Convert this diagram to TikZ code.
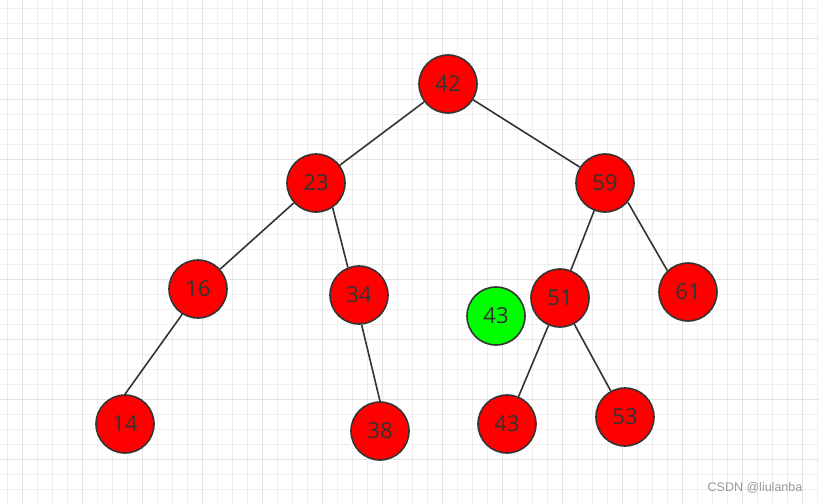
\documentclass[tikz,border=0pt]{standalone}
\usepackage{fontspec}
\setmainfont{Open Sans}
\newfontfamily\wmfont{Liberation Sans}
\definecolor{minorg}{HTML}{EFEFEF}
\definecolor{majorg}{HTML}{E2E2E2}
\definecolor{ink}{HTML}{333333}
\definecolor{nred}{HTML}{FF0000}
\definecolor{ngreen}{HTML}{00FF00}
\begin{document}
\begin{tikzpicture}[x=1pt,y=-1pt,
  tnode/.style={circle,draw=ink,line width=1.6pt,fill=nred,minimum size=58pt,inner sep=0pt,
    text=ink,font=\fontsize{22}{26}\selectfont},
  gnode/.style={tnode,fill=ngreen},
  edge/.style={draw=ink,line width=1.6pt}]
\useasboundingbox (0,0) rectangle (819,503);
\fill[white] (0,0) rectangle (819,503);
% grid
\foreach \x in {7,22,...,817} \draw[minorg,line width=1pt] (\x,0) -- (\x,503);
\foreach \y in {9,24,...,502} \draw[minorg,line width=1pt] (0,\y) -- (819,\y);
\foreach \x in {22,82,...,817} \draw[majorg,line width=1pt] (\x,0) -- (\x,503);
\foreach \y in {39,99,...,502} \draw[majorg,line width=1pt] (0,\y) -- (819,\y);
% nodes
\node[tnode] (n42) at (448,84) {42};
\node[tnode] (n23) at (316,183) {23};
\node[tnode] (n59) at (605,183) {59};
\node[tnode] (n16) at (198,289) {16};
\node[tnode] (n34) at (359,295) {34};
\node[gnode] (g43) at (496,316) {43};
\node[tnode] (n51) at (560,298) {51};
\node[tnode] (n61) at (688,292) {61};
\node[tnode] (n14) at (125,424) {14};
\node[tnode] (n38) at (380,431) {38};
\node[tnode] (n43) at (507,424) {43};
\node[tnode] (n53) at (625,417) {53};
% edges
\draw[edge] (n42) -- (n23);
\draw[edge] (n42) -- (n59);
\draw[edge] (n23) -- (n16);
\draw[edge] (n23.-56) -- (n34.112);
\draw[edge] (n16.238) -- (n14.90);
\draw[edge] (n34.-85) -- (n38.90);
\draw[edge] (n59) -- (n51);
\draw[edge] (n59.-40) -- (n61.134);
\draw[edge] (n51) -- (n43);
\draw[edge] (n51) -- (n53);
% watermark
\node[text=gray!80,font=\wmfont\fontsize{12.5}{14}\selectfont,inner sep=0pt] (wm) at (755,488) {CSDN @liulanba};
\end{tikzpicture}
\end{document}
